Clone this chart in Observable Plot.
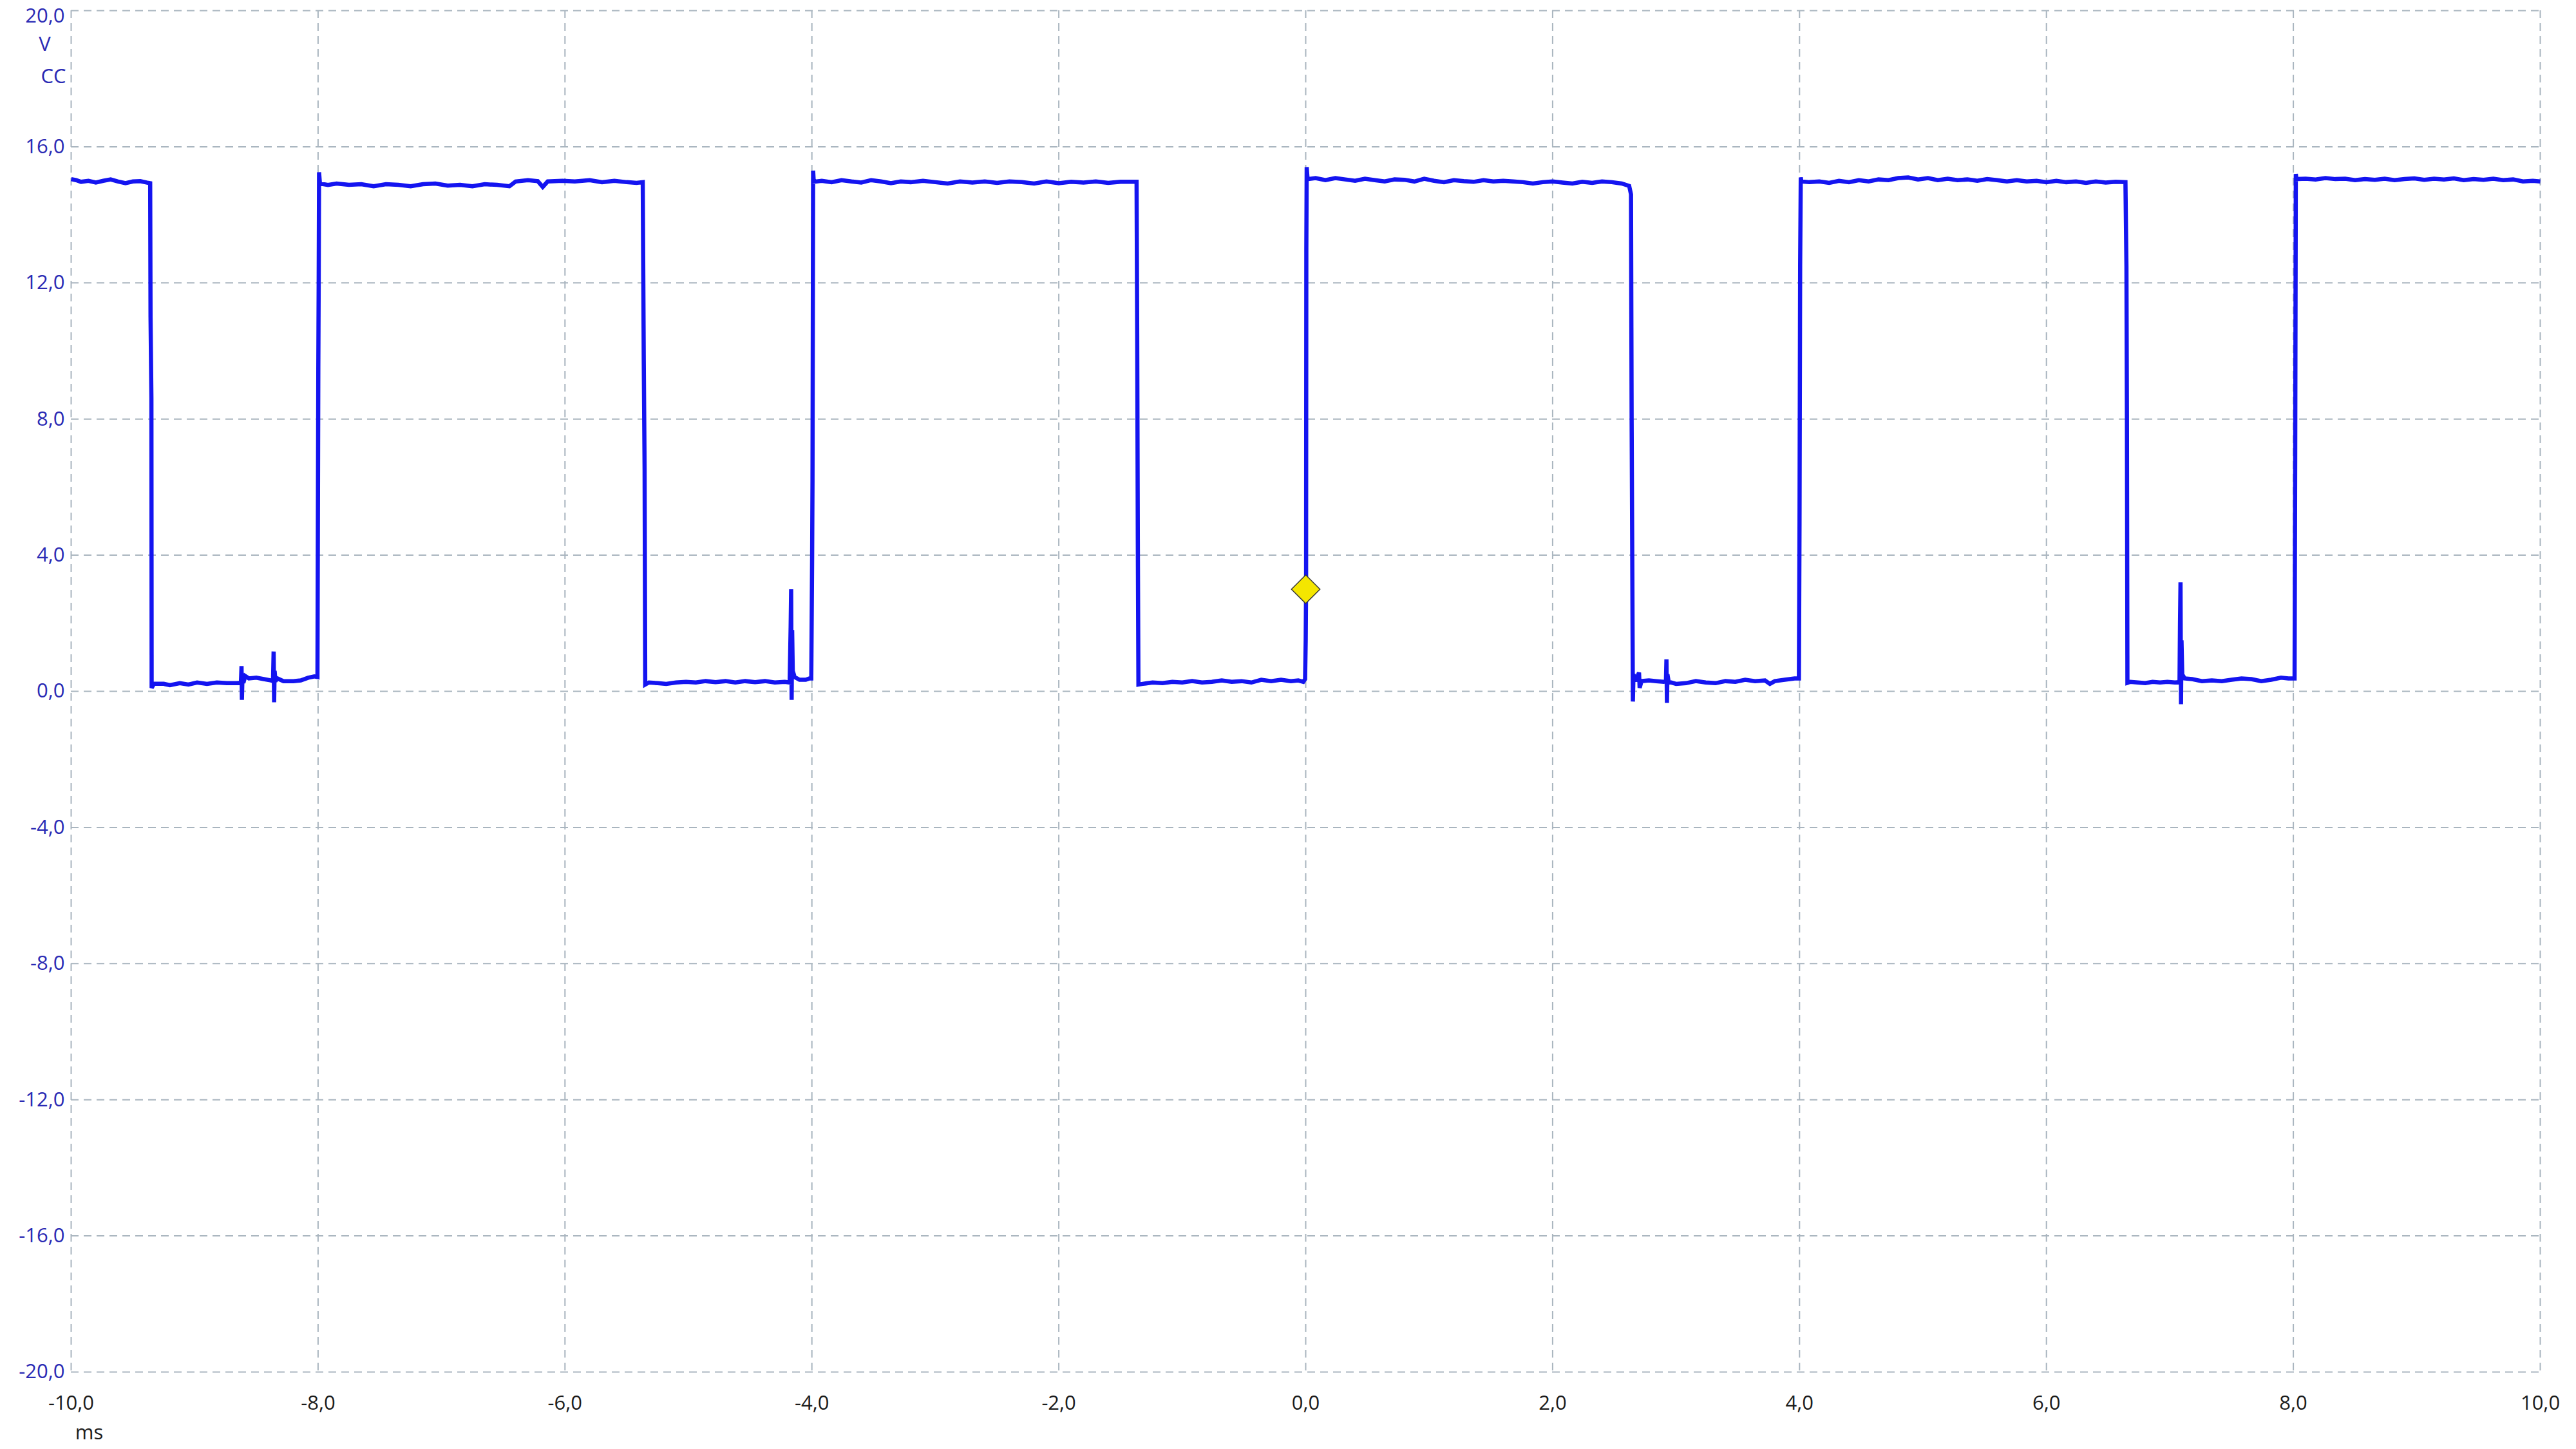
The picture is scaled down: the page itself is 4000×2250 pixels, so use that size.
<!DOCTYPE html>
<html>
<head>
<meta charset="utf-8">
<script src="https://cdn.jsdelivr.net/npm/d3@7"></script>
<script src="https://cdn.jsdelivr.net/npm/@observablehq/plot@0.6"></script>
<style>
  html, body { margin: 0; padding: 0; background: #ffffff; }
  #chart { width: 4000px; height: 2250px; }
</style>
</head>
<body>
<div id="chart"></div>
<script>
const xTicks = [-10, -8, -6, -4, -2, 0, 2, 4, 6, 8, 10];
const yTicks = [20, 16, 12, 8, 4, 0, -4, -8, -12, -16, -20];
const xUnit = "ms";
const yUnitLines = ["V", "CC"];

// time (ms) of each sample of the trace
const timeMs = [
  -10.00, -9.96, -9.92, -9.86, -9.80, -9.74, -9.68, -9.62, -9.56, -9.50, -9.44, -9.39, -9.36,
  -9.357, -9.350, -9.348,
  -9.33, -9.25, -9.20, -9.12, -9.05, -8.98, -8.90, -8.82, -8.74, -8.66,
  -8.625, -8.620, -8.617, -8.612, -8.605, -8.59, -8.56, -8.50, -8.44, -8.38,
  -8.365, -8.360, -8.356, -8.352, -8.345, -8.33, -8.28, -8.20, -8.14, -8.08, -8.03, -8.005,
  -7.998, -7.995, -7.992, -7.985,
  -7.92, -7.85, -7.75, -7.65, -7.55, -7.45, -7.35, -7.25, -7.15, -7.05, -6.95, -6.85, -6.75, -6.65, -6.55, -6.45,
  -6.40, -6.30, -6.22, -6.18, -6.14, -6.02, -5.92, -5.80, -5.70, -5.60, -5.50, -5.42, -5.37,
  -5.362, -5.355, -5.350,
  -5.32, -5.25, -5.18, -5.10, -5.02, -4.94, -4.86, -4.78, -4.70, -4.62, -4.54, -4.46, -4.38, -4.30, -4.22,
  -4.180, -4.172, -4.168, -4.164, -4.160, -4.155, -4.14, -4.10, -4.05, -4.02, -4.005,
  -3.998, -3.995, -3.990, -3.985,
  -3.92, -3.84, -3.76, -3.68, -3.60, -3.52, -3.44, -3.36, -3.28, -3.20, -3.10, -3.00, -2.90, -2.80, -2.70,
  -2.60, -2.50, -2.40, -2.30, -2.20, -2.10, -2.00, -1.90, -1.80, -1.70, -1.60, -1.50, -1.42, -1.37,
  -1.365, -1.360, -1.355,
  -1.32, -1.24, -1.16, -1.08, -1.00, -0.92, -0.84, -0.76, -0.68, -0.60, -0.52, -0.44, -0.36, -0.28, -0.20,
  -0.12, -0.06, -0.02, -0.005,
  0.000, 0.003, 0.005, 0.008, 0.015,
  0.08, 0.16, 0.24, 0.32, 0.40, 0.48, 0.56, 0.64, 0.72, 0.80, 0.88, 0.96, 1.04, 1.12, 1.20, 1.28, 1.36,
  1.44, 1.52, 1.60, 1.68, 1.76, 1.84, 1.92, 2.00, 2.08, 2.16, 2.24, 2.32, 2.40, 2.48, 2.56, 2.62, 2.635,
  2.640, 2.645, 2.650, 2.655,
  2.67, 2.70, 2.705, 2.72, 2.78, 2.84, 2.90,
  2.918, 2.922, 2.926, 2.930, 2.94, 3.00, 3.08, 3.16, 3.24, 3.32, 3.40, 3.48, 3.56, 3.64, 3.72, 3.76, 3.80,
  3.88, 3.96, 3.995,
  4.000, 4.005, 4.010, 4.015,
  4.08, 4.16, 4.24, 4.32, 4.40, 4.48, 4.56, 4.64, 4.72, 4.80, 4.88, 4.96, 5.04, 5.12, 5.20, 5.28, 5.36,
  5.44, 5.52, 5.60, 5.68, 5.76, 5.84, 5.92, 6.00, 6.08, 6.16, 6.24, 6.32, 6.40, 6.48, 6.56, 6.64,
  6.648, 6.652, 6.656,
  6.68, 6.74, 6.80, 6.86, 6.92, 6.98, 7.04,
  7.078, 7.082, 7.086, 7.090, 7.094, 7.100, 7.12, 7.18, 7.26, 7.34, 7.42, 7.50, 7.58, 7.66, 7.74, 7.82,
  7.90, 7.96, 8.010,
  8.015, 8.020, 8.025,
  8.10, 8.18, 8.26, 8.34, 8.42, 8.50, 8.58, 8.66, 8.74, 8.82, 8.90, 8.98, 9.06, 9.14, 9.22, 9.30, 9.38,
  9.46, 9.54, 9.62, 9.70, 9.78, 9.86, 9.94, 10.00
];

// voltage (V) of each sample of the trace
const volts = [
  15.05, 15.02, 14.97, 15.00, 14.95, 15.00, 15.04, 14.98, 14.93, 14.98, 14.99, 14.95, 14.93,
  11.0, 8.6, 0.10,
  0.22, 0.22, 0.18, 0.24, 0.20, 0.26, 0.22, 0.26, 0.24, 0.24,
  0.25, 0.74, -0.25, 0.50, 0.25, 0.45, 0.38, 0.40, 0.36, 0.32,
  0.30, 1.17, -0.32, 0.60, 0.30, 0.38, 0.30, 0.30, 0.32, 0.40, 0.44, 0.42,
  9.5, 12.0, 15.25, 14.92,
  14.88, 14.92, 14.88, 14.90, 14.84, 14.90, 14.88, 14.84, 14.90, 14.92, 14.86, 14.88, 14.84, 14.90, 14.88, 14.84,
  14.98, 15.02, 14.99, 14.82, 14.98, 15.00, 14.98, 15.02, 14.96, 15.00, 14.96, 14.94, 14.96,
  9.8, 6.5, 0.20,
  0.26, 0.24, 0.22, 0.26, 0.28, 0.26, 0.30, 0.27, 0.30, 0.26, 0.30, 0.27, 0.30, 0.26, 0.28,
  0.26, 1.9, 3.0, -0.25, 1.8, 0.6, 0.42, 0.34, 0.34, 0.38, 0.38,
  4.0, 6.2, 15.30, 14.97,
  15.00, 14.96, 15.02, 14.98, 14.95, 15.02, 14.98, 14.93, 14.98, 14.96, 15.00, 14.96, 14.92, 14.98, 14.95,
  14.98, 14.94, 14.98, 14.96, 14.92, 14.98, 14.93, 14.97, 14.95, 14.98, 14.94, 14.97, 14.97, 14.97,
  10.5, 4.5, 0.20,
  0.22, 0.26, 0.24, 0.28, 0.26, 0.30, 0.26, 0.28, 0.32, 0.28, 0.30, 0.26, 0.34, 0.30, 0.34,
  0.30, 0.32, 0.28, 0.36,
  1.5, 3.0, 13.0, 15.40, 15.05,
  15.08, 15.02, 15.08, 15.04, 15.00, 15.06, 15.02, 14.98, 15.04, 15.03, 14.98, 15.06, 15.00, 14.96, 15.02, 14.99, 14.97,
  15.02, 14.98, 15.00, 14.98, 14.96, 14.92, 14.96, 14.98, 14.95, 14.92, 14.97, 14.94, 14.98, 14.96, 14.92, 14.85, 14.60,
  8.0, 4.0, -0.30, 0.50,
  0.30, 0.55, 0.10, 0.30, 0.32, 0.30, 0.28,
  0.30, 0.94, -0.34, 0.50, 0.28, 0.22, 0.24, 0.30, 0.26, 0.24, 0.30, 0.28, 0.34, 0.30, 0.32, 0.22, 0.30,
  0.34, 0.38, 0.38,
  5.0, 12.5, 15.10, 14.98,
  14.96, 14.98, 14.94, 15.00, 14.96, 15.02, 14.98, 15.04, 15.02, 15.08, 15.10, 15.04, 15.08, 15.02, 15.06, 15.02, 15.04,
  15.00, 15.05, 15.02, 14.98, 15.02, 14.98, 15.00, 14.96, 15.00, 14.96, 14.98, 14.94, 14.98, 14.95, 14.97, 14.96,
  12.5, 8.0, 0.25,
  0.28, 0.26, 0.24, 0.28, 0.26, 0.28, 0.26,
  0.27, 2.0, 3.2, -0.38, 1.5, 0.5, 0.38, 0.36, 0.30, 0.32, 0.30, 0.34, 0.38, 0.36, 0.30, 0.34,
  0.40, 0.38, 0.38,
  7.0, 15.20, 15.05,
  15.06, 15.04, 15.08, 15.05, 15.06, 15.02, 15.05, 15.03, 15.06, 15.02, 15.05, 15.07, 15.03, 15.06, 15.04, 15.07, 15.02,
  15.05, 15.03, 15.06, 15.02, 15.04, 14.98, 15.00, 14.98
];

// trigger marker
const triggerTime = [0.0];
const triggerVolts = [3.0];

// ---- Build and draw ----
const trace = timeMs.map((t, i) => ({t, v: volts[i]}));
const trigger = triggerTime.map((t, i) => ({t, v: triggerVolts[i]}));
const fmt = d => d.toFixed(1).replace(".", ",");
const yTop = yTicks.slice(0, 1);
const yRest = yTicks.slice(1);

const gridStyle = {stroke: "#a9b5bf", strokeOpacity: 1, strokeWidth: 2, strokeDasharray: "12,8"};
const yLabelStyle = {tickFormat: fmt, tickSize: 0, tickPadding: 10, fontSize: 31, fill: "#2a2ab4", label: null};

const chart = Plot.plot({
  width: 4000,
  height: 2250,
  marginLeft: 110,
  marginRight: 56,
  marginTop: 16,
  marginBottom: 120,
  style: {fontFamily: "'Open Sans', 'Liberation Sans', sans-serif", fontSize: "31px", background: "#ffffff"},
  x: {domain: [-10, 10]},
  y: {domain: [-20, 20]},
  marks: [
    Plot.gridX({ticks: xTicks, ...gridStyle}),
    Plot.gridY({ticks: yTicks, ...gridStyle}),
    Plot.axisX({ticks: xTicks, tickFormat: fmt, tickSize: 0, tickPadding: 36, fontSize: 31, fill: "#1c1c1c", label: null}),
    Plot.axisY({ticks: yRest, ...yLabelStyle}),
    Plot.axisY({ticks: yTop, ...yLabelStyle, dy: 9}),
    Plot.line(trace, {
      x: "t", y: "v",
      stroke: "#1414f0", strokeWidth: 6.5,
      strokeLinejoin: "miter", strokeMiterlimit: 2, strokeLinecap: "butt"
    }),
    Plot.dot(trigger, {
      x: "t", y: "v", symbol: "diamond2", r: 20,
      fill: "#f4e600", stroke: "#3a3a3a", strokeWidth: 1.5
    }),
    Plot.text([yUnitLines[0]], {
      text: d => d, frameAnchor: "top-left", dx: -41, dy: 40,
      textAnchor: "middle", fill: "#2a2ab4", fontSize: 31
    }),
    Plot.text([yUnitLines[1]], {
      text: d => d, frameAnchor: "top-left", dx: -8, dy: 90,
      textAnchor: "end", fill: "#2a2ab4", fontSize: 31
    }),
    Plot.text([xUnit], {
      text: d => d, frameAnchor: "bottom-left", dx: 28, dy: 104,
      textAnchor: "middle", fill: "#1c1c1c", fontSize: 31
    })
  ]
});

document.getElementById("chart").appendChild(chart);
</script>
</body>
</html>
